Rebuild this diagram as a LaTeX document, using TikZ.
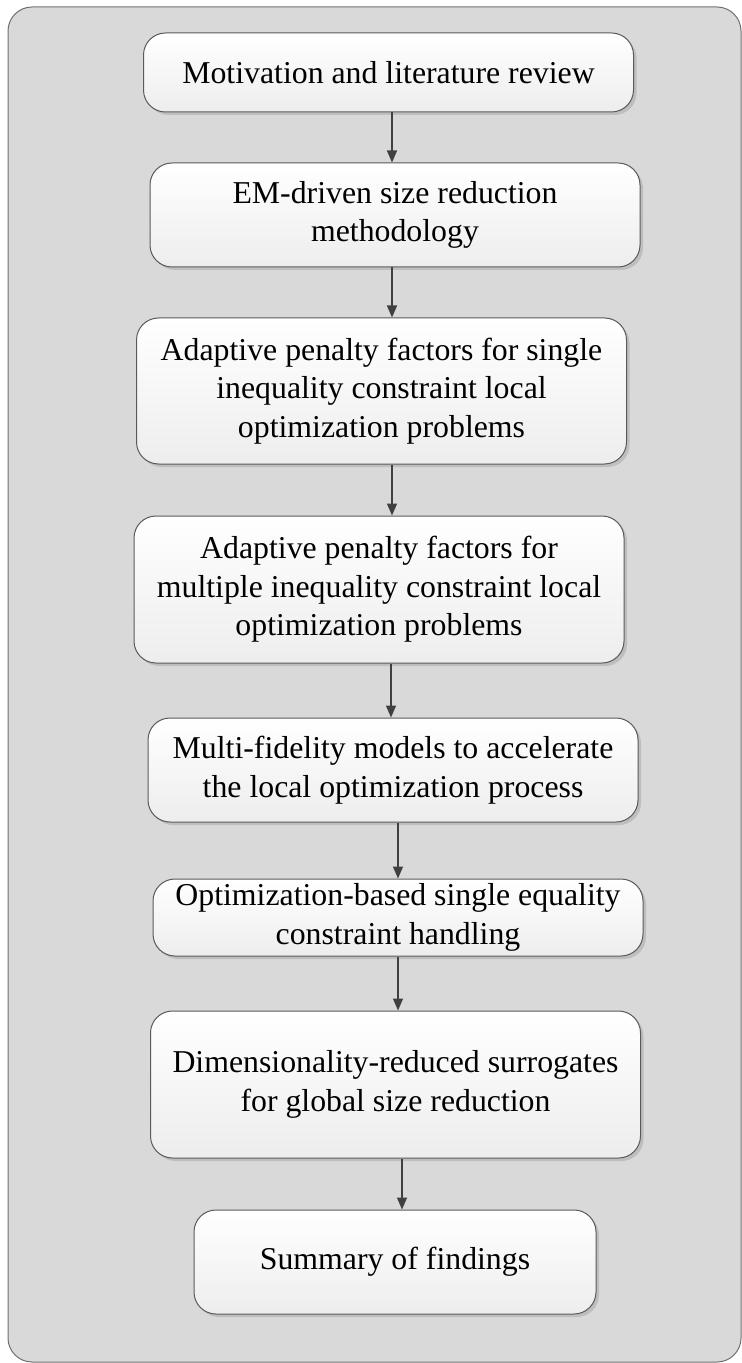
\documentclass[tikz,border=0pt]{standalone}
\usepackage{fontspec}
\setmainfont{Liberation Serif}
\usetikzlibrary{arrows.meta, positioning, shadows}
\definecolor{ink}{HTML}{404040}
\definecolor{edge}{HTML}{5A5A5A}
\definecolor{frame}{HTML}{707070}
\definecolor{panel}{HTML}{D9D9D9}

\begin{document}
\begin{tikzpicture}[node distance=25pt,
    stage/.style={draw=edge, line width=0.5pt, rounded corners=11pt, top color=white, bottom color=black!7,
      minimum width=245pt, inner xsep=4pt, inner ysep=1pt, align=center,
      font=\fontsize{15.9pt}{19.3pt}\selectfont,
      drop shadow={shadow xshift=1.5pt, shadow yshift=-1.5pt, opacity=0.12, fill=black}},
    link/.style={draw=ink, line width=0.75pt, -{Triangle[length=6pt, width=5pt]}}]
    \useasboundingbox (0,0) rectangle (371pt,-681.5pt);
    % panel
    \draw[fill=panel, draw=frame, line width=0.5pt, rounded corners=12pt] (4pt,-3.5pt) rectangle (370.5pt,-681pt);
    % stages
    \node[stage, minimum height=39.5pt] (mot) at (194.25pt,-36.25pt) {Motivation and literature review};
    \node[stage, minimum height=52pt, below=25pt of mot, xshift=3.25pt] (em) {EM-driven size reduction\\ methodology};
    \node[stage, minimum height=73pt, below=25pt of em, xshift=-6.75pt] (single) {Adaptive penalty factors for single\\ inequality constraint local\\ optimization problems};
    \node[stage, minimum height=73.5pt, below=25.5pt of single, xshift=-1.25pt] (multi) {Adaptive penalty factors for\\ multiple inequality constraint local\\ optimization problems};
    \node[stage, minimum height=52pt, below=27pt of multi, xshift=7pt] (mf) {Multi-fidelity models to accelerate\\ the local optimization process};
    \node[stage, minimum height=38.5pt, below=28pt of mf, xshift=2.5pt] (eq) {Optimization-based single equality\\ constraint handling};
    \node[stage, minimum height=73.5pt, below=27pt of eq, xshift=-1.25pt] (dim) {Dimensionality-reduced surrogates\\ for global size reduction};
    \node[stage, minimum height=52pt, minimum width=201pt, below=25.5pt of dim, xshift=-0.25pt] (sum) {Summary of findings};
    % arrows
    \foreach \a/\b/\x in {mot/em/196, em/single/196, single/multi/196, multi/mf/195.5, mf/eq/199, eq/dim/199, dim/sum/201}
      \draw[link] (\a.south -| \x pt,0) -- (\b.north -| \x pt,0);
\end{tikzpicture}
\end{document}
